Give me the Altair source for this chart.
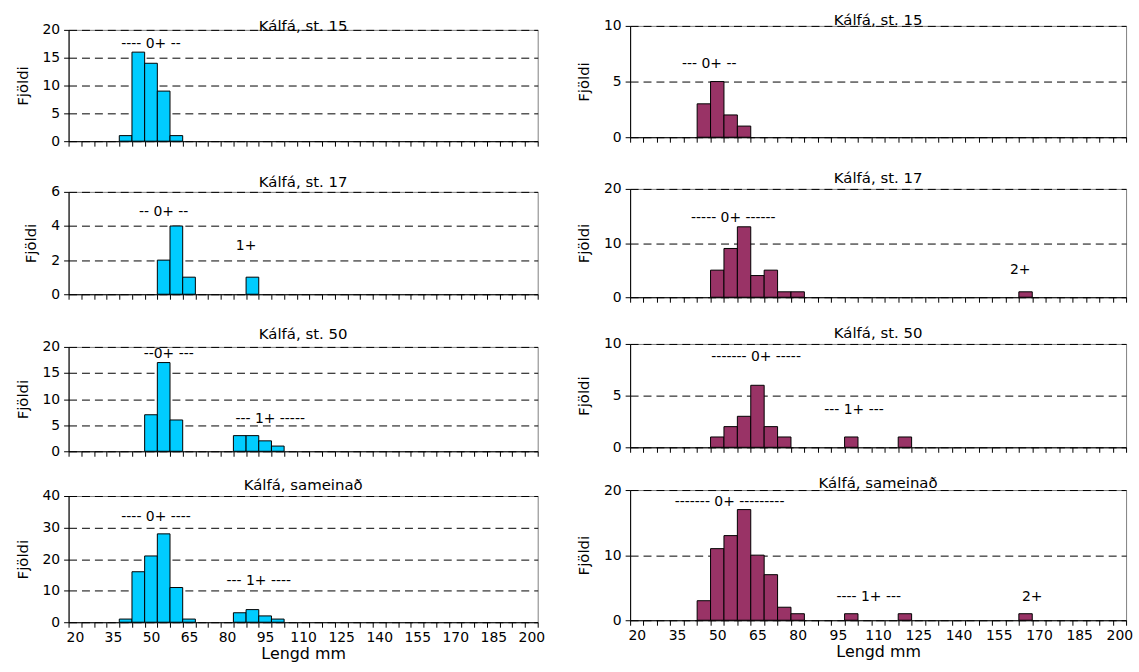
import altair as alt
import pandas as pd

# ---------------- data ----------------
LENGTHS = [20, 25, 30, 35, 40, 45, 50, 55, 60, 65,
           70, 75, 80, 85, 90, 95, 100, 105, 110, 115,
           120, 125, 130, 135, 140, 145, 150, 155, 160, 165,
           170, 175, 180, 185, 190, 195, 200]
TICK_LABELS = [20, 35, 50, 65, 80, 95, 110, 125, 140, 155, 170, 185, 200]

L_ST15 = [0, 0, 0, 0, 1, 16, 14, 9, 1, 0,
          0, 0, 0, 0, 0, 0, 0, 0, 0, 0,
          0, 0, 0, 0, 0, 0, 0, 0, 0, 0,
          0, 0, 0, 0, 0, 0, 0]
L_ST17 = [0, 0, 0, 0, 0, 0, 0, 2, 4, 1,
          0, 0, 0, 0, 1, 0, 0, 0, 0, 0,
          0, 0, 0, 0, 0, 0, 0, 0, 0, 0,
          0, 0, 0, 0, 0, 0, 0]
L_ST50 = [0, 0, 0, 0, 0, 0, 7, 17, 6, 0,
          0, 0, 0, 3, 3, 2, 1, 0, 0, 0,
          0, 0, 0, 0, 0, 0, 0, 0, 0, 0,
          0, 0, 0, 0, 0, 0, 0]
L_ALL = [0, 0, 0, 0, 1, 16, 21, 28, 11, 1,
         0, 0, 0, 3, 4, 2, 1, 0, 0, 0,
         0, 0, 0, 0, 0, 0, 0, 0, 0, 0,
         0, 0, 0, 0, 0, 0, 0]
R_ST15 = [0, 0, 0, 0, 0, 3, 5, 2, 1, 0,
          0, 0, 0, 0, 0, 0, 0, 0, 0, 0,
          0, 0, 0, 0, 0, 0, 0, 0, 0, 0,
          0, 0, 0, 0, 0, 0, 0]
R_ST17 = [0, 0, 0, 0, 0, 0, 5, 9, 13, 4,
          5, 1, 1, 0, 0, 0, 0, 0, 0, 0,
          0, 0, 0, 0, 0, 0, 0, 0, 0, 1,
          0, 0, 0, 0, 0, 0, 0]
R_ST50 = [0, 0, 0, 0, 0, 0, 1, 2, 3, 6,
          2, 1, 0, 0, 0, 0, 1, 0, 0, 0,
          1, 0, 0, 0, 0, 0, 0, 0, 0, 0,
          0, 0, 0, 0, 0, 0, 0]
R_ALL = [0, 0, 0, 0, 0, 3, 11, 13, 17, 10,
         7, 2, 1, 0, 0, 0, 1, 0, 0, 0,
         1, 0, 0, 0, 0, 0, 0, 0, 0, 1,
         0, 0, 0, 0, 0, 0, 0]

# annotations: text, length (mm), count
ANN_L_ST15 = [("---- 0+ --", 50, 17.5)]
ANN_L_ST17 = [("-- 0+ --", 55, 4.8), ("1+", 87.5, 2.85)]
ANN_L_ST50 = [("--0+ ---", 57, 18.7), ("--- 1+ -----", 97, 6.1)]
ANN_L_ALL = [("---- 0+ ----", 52, 33.3), ("--- 1+ ----", 92.5, 13.1)]
ANN_R_ST15 = [("--- 0+ --", 47, 6.6)]
ANN_R_ST17 = [("----- 0+ ------", 56, 14.7), ("2+", 163, 4.95)]
ANN_R_ST50 = [("------- 0+ -----", 64.5, 8.75), ("--- 1+ ---", 101, 3.65)]
ANN_R_ALL = [("------- 0+ ---------", 54.6, 18.1), ("---- 1+ ---", 106.5, 3.6), ("2+", 167.5, 3.5)]

TITLE_15 = "Kálfá, st. 15"
TITLE_17 = "Kálfá, st. 17"
TITLE_50_L = "Kálfá, st. 50"
TITLE_50_R = "Kálfá,  st. 50"
TITLE_ALL = "Kálfá, sameinað"
Y_TITLE = "Fjöldi"
X_TITLE = "Lengd mm"

# ---------------- styling ----------------
FONT = "DejaVu Sans"
CYAN = "#00CCFF"
PLUM = "#993366"
HALF = 2.5
BOUNDS = [v - HALF for v in LENGTHS] + [LENGTHS[-1] + HALF]
LABEL_EXPR = ("indexof([" + ",".join(str(v) for v in TICK_LABELS) +
              "], datum.value + 2.5) >= 0 ? format(datum.value + 2.5, 'd') : ''")


def panel(counts, color, ymax, ystep, width, height, title, toff, ann, bottom):
    df = pd.DataFrame({"len": LENGTHS, "n": counts})
    df = df[df["n"] > 0].copy()
    df["x0"] = df["len"] - HALF
    df["x1"] = df["len"] + HALF
    catw = width / len(LENGTHS)
    if bottom:
        xaxis = alt.Axis(values=BOUNDS, labelExpr=LABEL_EXPR, labelOffset=catw / 2,
                         labelOverlap=False, labelFlush=False, labelFontSize=14,
                         labelFont=FONT, labelColor="black", labelPadding=3,
                         title=X_TITLE, titleFont=FONT, titleFontSize=16,
                         titleFontWeight="normal", titleColor="black", titlePadding=1,
                         grid=False, ticks=True, tickSize=5, tickColor="black",
                         domainColor="black")
    else:
        xaxis = alt.Axis(values=BOUNDS, labels=False, title=None, grid=False,
                         ticks=True, tickSize=5, tickColor="black", domainColor="black")
    yvals = list(range(0, ymax + 1, ystep))
    yaxis = alt.Axis(values=yvals, title=Y_TITLE, titleFont=FONT, titleFontSize=15,
                     titleFontWeight="normal", titleColor="black", titlePadding=12,
                     labelFont=FONT, labelFontSize=14, labelColor="black", labelPadding=4,
                     labelOverlap=False,
                     grid=True, gridColor="black", gridDash=[8, 5], gridWidth=1,
                     tickSize=5, tickColor="black", domainColor="black")
    xs = alt.Scale(domain=[BOUNDS[0], BOUNDS[-1]], nice=False, zero=False)
    ys = alt.Scale(domain=[0, ymax], nice=False)
    bars = alt.Chart(df).mark_rect(color=color, stroke="black", strokeWidth=1).encode(
        x=alt.X("x0:Q", scale=xs, axis=xaxis),
        x2="x1:Q",
        y=alt.Y("n:Q", scale=ys, axis=yaxis),
        y2=alt.datum(0),
    )
    adf = pd.DataFrame(ann, columns=["t", "x", "y"])
    txt = alt.Chart(adf).mark_text(font=FONT, fontSize=14, color="black").encode(
        x=alt.X("x:Q", scale=xs, axis=xaxis),
        y=alt.Y("y:Q", scale=ys, axis=yaxis),
        text="t:N")
    return alt.layer(bars, txt).properties(
        width=width, height=height,
        title=alt.TitleParams(title, font=FONT, fontSize=15, fontWeight="normal",
                              color="black", anchor="middle", offset=toff))


def spacer(width, height):
    return alt.Chart(pd.DataFrame({"a": [0]})).mark_point(opacity=0).encode(
        x=alt.value(0), y=alt.value(0)
    ).properties(width=width, height=height,
                 view=alt.ViewBackground(strokeOpacity=0))


LW = 472
RW = 499

left = alt.vconcat(
    spacer(LW, 4),
    panel(L_ST15, CYAN, 20, 5, LW, 112, TITLE_15, -11, ANN_L_ST15, False),
    spacer(LW, 51),
    panel(L_ST17, CYAN, 6, 2, LW, 103, TITLE_17, -5, ANN_L_ST17, False),
    spacer(LW, 53),
    panel(L_ST50, CYAN, 20, 5, LW, 105, TITLE_50_L, -2, ANN_L_ST50, False),
    spacer(LW, 45),
    panel(L_ALL, CYAN, 40, 10, LW, 127, TITLE_ALL, -4, ANN_L_ALL, True),
    spacing=0, bounds="flush",
)
right = alt.vconcat(
    panel(R_ST15, PLUM, 10, 5, RW, 112, TITLE_15, -9, ANN_R_ST15, False),
    spacer(RW, 52),
    panel(R_ST17, PLUM, 20, 10, RW, 109, TITLE_17, -4, ANN_R_ST17, False),
    spacer(RW, 47),
    panel(R_ST50, PLUM, 10, 5, RW, 104, TITLE_50_R, -4, ANN_R_ST50, False),
    spacer(RW, 43),
    panel(R_ALL, PLUM, 20, 10, RW, 131, TITLE_ALL, -8, ANN_R_ALL, True),
    spacing=0, bounds="flush",
)

chart = alt.hconcat(left, right, spacing=30).properties(
    padding={"left": 14, "top": 10, "right": 5, "bottom": 5},
    background="white",
).configure_view(stroke="#808080", strokeWidth=1)

chart.save("out.html", embed_options={"renderer": "svg", "actions": False})
